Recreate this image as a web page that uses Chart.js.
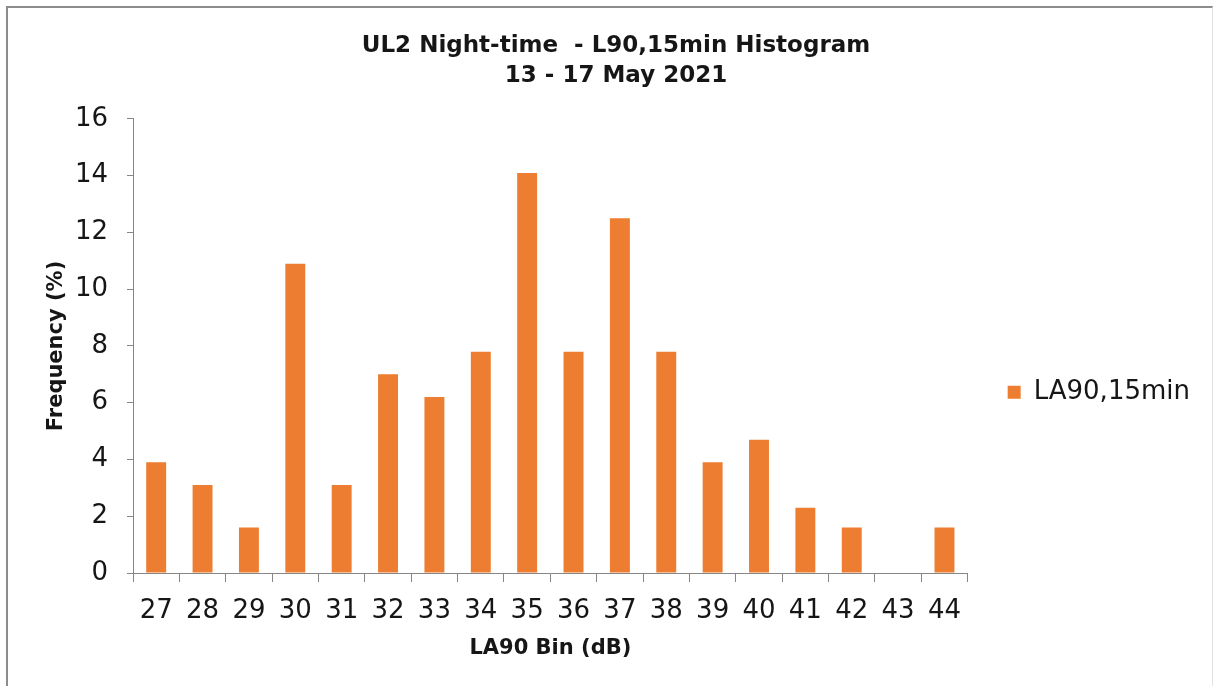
<!DOCTYPE html>
<html>
<head>
<meta charset="utf-8">
<script src="https://cdn.jsdelivr.net/npm/chart.js@4"></script>
<style>
  html, body { margin: 0; padding: 0; background: #ffffff; overflow: hidden; }
  #wrap { position: relative; width: 1216px; height: 686px; }
  #frame { position: absolute; left: 6px; top: 6px; width: 1204px; height: 700px;
           border-top: 2px solid #8c8c8c; border-left: 2px solid #8c8c8c; border-right: 1px solid #e2e2e2; }
  #c { position: absolute; left: 0; top: 0; }
</style>
</head>
<body>
<div id="wrap">
  <div id="frame"></div>
  <canvas id="c" width="1216" height="686"></canvas>
</div>
<script>
const chartTitle = ['UL2 Night-time  - L90,15min Histogram', '13 - 17 May 2021'];
const binLabels = ['27','28','29','30','31','32','33','34','35','36','37','38','39','40','41','42','43','44'];
const seriesName = 'LA90,15min';
const frequencyPct = [3.9, 3.1, 1.6, 10.9, 3.1, 7.0, 6.2, 7.8, 14.1, 7.8, 12.5, 7.8, 3.9, 4.7, 2.3, 1.6, 0, 1.6];
const xTitle = 'LA90 Bin (dB)';
const yTitle = 'Frequency (%)';
const yMin = 0, yMax = 16, yStep = 2;

const FONT = "'DejaVu Sans', Verdana, sans-serif";
const TEXT = '#161616';
const AXIS = '#868686';
const BAR = '#ED7D31';

new Chart(document.getElementById('c'), {
  type: 'bar',
  data: {
    labels: binLabels,
    datasets: [{
      label: seriesName,
      data: frequencyPct,
      backgroundColor: BAR,
      borderWidth: 0,
      barPercentage: 0.43,
      categoryPercentage: 1.0
    }]
  },
  options: {
    responsive: false,
    animation: false,
    devicePixelRatio: 1,
    layout: { padding: { left: 32, right: 16, top: 0, bottom: 0 } },
    plugins: {
      title: {
        display: true,
        text: chartTitle,
        color: TEXT,
        font: { family: FONT, size: 23, weight: 'bold', lineHeight: 1.304 },
        padding: { top: 31, bottom: 28 }
      },
      legend: {
        display: true,
        position: 'right',
        title: { display: true, text: '', font: { size: 12 }, padding: { top: 0, bottom: 84 } },
        labels: {
          color: TEXT,
          font: { family: FONT, size: 26 },
          boxWidth: 13,
          boxHeight: 13,
          padding: 40
        }
      },
      tooltip: { enabled: false }
    },
    scales: {
      x: {
        grid: { display: true, drawOnChartArea: false, drawTicks: true, tickLength: 9, color: AXIS, offset: true },
        border: { display: true, color: AXIS, width: 1 },
        ticks: { color: TEXT, font: { family: FONT, size: 26 }, padding: 14, maxRotation: 0, autoSkip: false },
        title: { display: true, text: xTitle, color: TEXT, font: { family: FONT, size: 21, weight: 'bold', lineHeight: 1.2 }, padding: { top: 0, bottom: 25 } },
        afterFit: (s) => { s.height = 113; }
      },
      y: {
        min: yMin, max: yMax,
        grid: { display: true, drawOnChartArea: false, drawTicks: true, tickLength: 6, color: AXIS },
        border: { display: true, color: AXIS, width: 1 },
        ticks: { stepSize: yStep, color: TEXT, font: { family: FONT, size: 26 }, padding: 19 },
        title: { display: true, text: yTitle, color: TEXT, font: { family: FONT, size: 21, weight: 'bold', lineHeight: 1.2 }, padding: { top: 12, bottom: 0 } },
        afterFit: (s) => { s.width = 101; }
      }
    }
  }
});
</script>
</body>
</html>
